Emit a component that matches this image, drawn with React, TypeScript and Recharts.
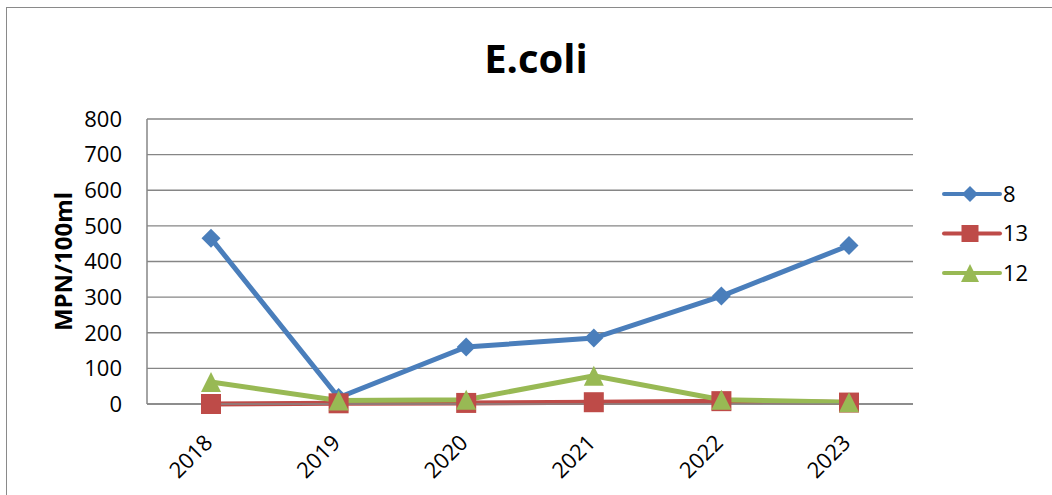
import React from 'react';
import { LineChart, Line, XAxis, YAxis, CartesianGrid, Legend } from 'recharts';

const years = ['2018', '2019', '2020', '2021', '2022', '2023'];
const site8 = [465, 18, 160, 185, 303, 445];
const site13 = [0, 2, 3, 5, 8, 4];
const site12 = [62, 10, 12, 79, 12, 5];
const yTicks = [0, 100, 200, 300, 400, 500, 600, 700, 800];
const seriesNames = ['8', '13', '12'];
const seriesKeys = ['s8', 's13', 's12'];
const seriesColors = ['#4A7EBB', '#BE4B48', '#98B954'];
const seriesShapes = ['diamond', 'square', 'triangle'];

const data = years.map((y, i) => ({ year: y, s8: site8[i], s13: site13[i], s12: site12[i] }));

const FONT = '"Open Sans", "Noto Sans", sans-serif';
const GRID = '#868686';

function marker(shape: string, cx: number, cy: number, s: number, color: string, key?: any) {
  if (shape === 'diamond') {
    return (
      <polygon key={key} points={`${cx},${cy - s} ${cx + s},${cy} ${cx},${cy + s} ${cx - s},${cy}`} fill={color} />
    );
  }
  if (shape === 'square') {
    return <rect key={key} x={cx - s} y={cy - s} width={2 * s} height={2 * s} fill={color} />;
  }
  return (
    <polygon key={key} points={`${cx},${cy - s} ${cx + s},${cy + s} ${cx - s},${cy + s}`} fill={color} />
  );
}

const dotFor = (i: number) => (p: any) => {
  const sizes = [9.5, 10, 10];
  if (p.cx == null || p.cy == null) return <g key={`${seriesKeys[i]}-${p.index}`} />;
  return marker(seriesShapes[i], p.cx, p.cy, sizes[i], seriesColors[i], `${seriesKeys[i]}-${p.index}`);
};

const XTick = (props: any) => {
  const { x, y, payload } = props;
  const tx = x + 3;
  const ty = y + 32;
  return (
    <text
      x={tx}
      y={ty}
      transform={`rotate(-45 ${tx} ${ty})`}
      textAnchor="end"
      fontSize={22}
      fontFamily={FONT}
      fill="#000"
    >
      {payload.value}
    </text>
  );
};

const YLabel = (props: any) => {
  const vb = props.viewBox || { x: 0, y: 0, width: 0, height: 0 };
  const x = vb.x + 72;
  const y = vb.y + vb.height / 2;
  return (
    <text
      x={x}
      y={y}
      transform={`rotate(-90 ${x} ${y})`}
      textAnchor="middle"
      fontSize={24}
      fontWeight="bold"
      fontFamily={FONT}
      fill="#000"
    >
      MPN/100ml
    </text>
  );
};

const LegendContent = () => {
  const sizes = [8, 8.5, 9];
  return (
    <svg width={118} height={110} style={{ display: 'block', overflow: 'visible' }}>
      {seriesNames.map((name, i) => {
        const cy = 19 + i * 39.5;
        return (
          <g key={name}>
            <line x1={31} x2={87} y1={cy} y2={cy} stroke={seriesColors[i]} strokeWidth={4} strokeLinecap="round" />
            {marker(seriesShapes[i], 57, cy, sizes[i], seriesColors[i])}
            <text x={90} y={cy} dy="0.36em" fontSize={22} fontFamily={FONT} fill="#000">
              {name}
            </text>
          </g>
        );
      })}
    </svg>
  );
};

export default function App() {
  return (
    <div style={{ position: 'fixed', left: 0, top: 0, width: 1052, height: 495, background: '#fff', overflow: 'hidden' }}>
      <div
        style={{
          position: 'absolute',
          left: 6,
          top: 7,
          width: 1060,
          height: 520,
          border: '1.5px solid #8a8a8a',
          boxSizing: 'border-box',
        }}
      />
      <svg width={1052} height={100} style={{ position: 'absolute', left: 0, top: 0 }}>
        <text x={536} y={73} textAnchor="middle" fontSize={40} fontWeight="bold" fontFamily={FONT} fill="#000">
          E.coli
        </text>
      </svg>
      <div style={{ position: 'absolute', left: 0, top: 0 }}>
        <LineChart width={1052} height={495} data={data} margin={{ top: 119, right: 19, bottom: 0, left: 0 }}>
          <CartesianGrid vertical={false} stroke={GRID} strokeWidth={1.4} />
          <XAxis
            dataKey="year"
            height={91}
            tickLine={false}
            padding={{ left: 64, right: 64 }}
            axisLine={{ stroke: GRID, strokeWidth: 1.5 }}
            tick={<XTick />}
            interval={0}
          />
          <YAxis
            domain={[0, 800]}
            ticks={yTicks}
            width={147}
            tickLine={false}
            tickMargin={19}
            interval={0}
            axisLine={{ stroke: GRID, strokeWidth: 1.5 }}
            tick={{ fill: '#000', fontSize: 22, fontFamily: FONT }}
            label={<YLabel />}
          />
          <Legend
            layout="vertical"
            align="right"
            verticalAlign="middle"
            wrapperStyle={{ top: 175, width: 120, height: 110 }}
            content={<LegendContent />}
          />
          {seriesKeys.map((k, i) => (
            <Line
              key={k}
              dataKey={k}
              name={seriesNames[i]}
              stroke={seriesColors[i]}
              strokeWidth={5}
              dot={dotFor(i)}
              activeDot={false}
              isAnimationActive={false}
            />
          ))}
        </LineChart>
      </div>
    </div>
  );
}
